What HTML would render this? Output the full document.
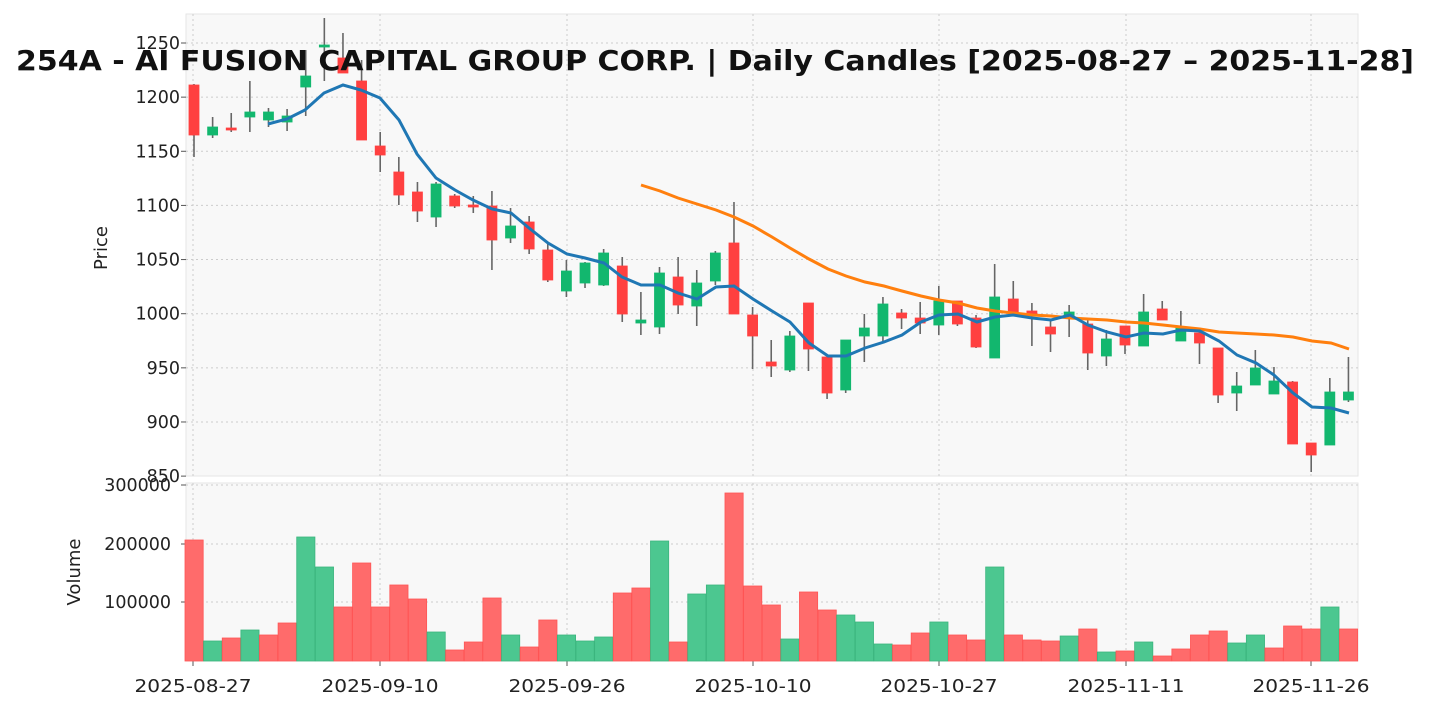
<!DOCTYPE html>
<html><head><meta charset="utf-8"><style>
html,body{margin:0;padding:0;background:#fff;}
svg{display:block;font-family:"DejaVu Sans","Liberation Sans",sans-serif;}
</style></head><body>
<svg id="s" width="1430" height="711" xmlns="http://www.w3.org/2000/svg"></svg>
<script>
const s=document.getElementById('s');let h='';
h+='<rect x="186" y="14" width="1172" height="462" fill="#f8f8f8" stroke="#e6e6e6"/>';
h+='<rect x="186" y="483" width="1172" height="178" fill="#f8f8f8" stroke="#e6e6e6"/>';
const xs=[193,380,567,753,939,1126,1311],xl=['2025-08-27','2025-09-10','2025-09-26','2025-10-10','2025-10-27','2025-11-11','2025-11-26'];
xs.forEach((x,i)=>{h+=`<line x1="${x}" y1="14" x2="${x}" y2="476" stroke="#ccc" stroke-dasharray="2,3"/><line x1="${x}" y1="483" x2="${x}" y2="661" stroke="#ccc" stroke-dasharray="2,3"/><line x1="${x}" y1="661" x2="${x}" y2="666" stroke="#555"/><text x="${x}" y="692" font-size="17.5" text-anchor="middle" fill="#222" textLength="117" lengthAdjust="spacingAndGlyphs">${xl[i]}</text>`;});
for(let k=0;k<9;k++){const v=1250-50*k,y=43+54.14*k;if(k<8)h+=`<line x1="186" y1="${y}" x2="1358" y2="${y}" stroke="#ccc" stroke-dasharray="2,3"/>`;h+=`<line x1="181" y1="${y}" x2="186" y2="${y}" stroke="#555"/><text x="180" y="${y+6}" font-size="17.5" text-anchor="end" fill="#222">${v}</text>`;}
[[300000,485],[200000,544],[100000,602]].forEach(([v,y])=>{h+=`<line x1="186" y1="${y}" x2="1358" y2="${y}" stroke="#ccc" stroke-dasharray="2,3"/><line x1="181" y1="${y}" x2="186" y2="${y}" stroke="#555"/><text x="171" y="${y+6}" font-size="17.5" text-anchor="end" fill="#222">${v}</text>`;});
h+='<text x="107" y="248" font-size="18" fill="#222" text-anchor="middle" transform="rotate(-90 107 248)">Price</text>';
h+='<text x="80" y="572" font-size="18" fill="#222" text-anchor="middle" transform="rotate(-90 80 572)">Volume</text>';
const R='r',G='g';
const c=[[R,85,135,84,157],[G,127,135,117,138],[R,128,130,113,132],[G,112,117,81,132],[G,112,120,108,127],[G,116,122,109,131],[G,76,87,50,116],[G,45,47,18,81],[R,58,73,33,73],[R,81,140,60,140],[R,146,155,132,172],[R,172,195,157,205],[R,192,211,182,222],[G,184,217,182,227],[R,196,206,194,208],[R,205,207,196,213],[R,206,240,191,270],[G,226,238,208,243],[R,222,249,216,254],[R,250,280,244,282],[G,271,291,260,297],[G,263,283,262,288],[G,253,285,249,286],[R,266,314,257,322],[G,320,323,292,335],[G,273,327,267,334],[R,277,305,257,314],[G,283,306,270,326],[G,253,281,251,285],[R,243,314,202,314],[R,315,336,307,369],[R,362,366,340,377],[G,336,370,331,372],[R,303,349,303,371],[R,357,393,357,399],[G,340,390,340,393],[G,328,336,314,362],[G,304,336,297,342],[R,313,318,309,329],[R,318,323,302,334],[G,301,325,286,335],[R,301,324,301,326],[R,318,347,315,348],[G,297,358,264,358],[R,299,312,281,312],[R,311,315,303,346],[R,327,334,320,352],[G,312,317,305,337],[R,324,353,320,370],[G,339,356,330,366],[R,326,345,326,354],[G,312,346,294,346],[R,309,320,301,320],[G,328,341,311,341],[R,333,343,329,364],[R,348,395,348,403],[G,386,393,372,411],[G,368,385,350,385],[G,381,394,367,394],[R,382,444,381,444],[R,443,455,443,472],[G,392,445,378,445],[G,392,400,357,402]];
const v=[540,641,638,630,635,623,537,567,607,563,607,585,599,632,650,642,598,635,647,620,635,641,637,593,588,541,642,594,585,493,586,605,639,592,610,615,622,644,645,633,622,635,640,567,635,640,641,636,629,652,651,642,656,649,635,631,643,635,648,626,629,607,629];
const vcol='rgrgrrggrrrrrgrrrgrrgggrrgrggrrrgrrgggrrgrrgrrrgrgrgrrrrggrrrgr';
c.forEach((d,i)=>{const x=194+18.62*i;const red=vcol[i]=='r';const vc=red?'#ff6b6b':'#4cc790',vs=red?'#f55':'#3bb57e';
h+=`<rect x="${x-9}" y="${v[i]}" width="18.2" height="${661-v[i]}" fill="${vc}" stroke="${vs}" stroke-width="0.8"/>`;});
c.forEach((d,i)=>{const x=194+18.62*i;const col=d[0]==R?'#ff4040':'#12b76e';
h+=`<line x1="${x}" y1="${d[3]}" x2="${x}" y2="${d[4]}" stroke="#666" stroke-width="1.6"/><rect x="${x-5}" y="${d[1]}" width="10" height="${Math.max(2,d[2]-d[1])}" fill="${col}" stroke="${col}" stroke-width="0.8"/>`;});
const b=[[268,124],[287,119],[305,110],[324,93],[343,85],[361,90],[380,98],[399,120],[417,154],[436,178],[455,190],[473,200],[492,209],[511,213],[529,228],[548,243],[567,254],[585,258],[604,263],[622,277],[641,285],[660,285],[678,293],[697,299],[716,287],[734,286],[753,299],[772,311],[790,322],[809,343],[828,356],[846,356],[865,348],[884,342],[902,335],[921,322],[939,315],[958,314],[977,322],[995,317],[1013,315],[1032,318],[1051,320],[1070,315],[1088,325],[1107,332],[1126,337],[1144,333],[1163,334],[1181,330],[1200,331],[1219,341],[1237,355],[1256,363],[1274,375],[1293,393],[1312,407],[1331,408],[1349,413]];
const o=[[641,185],[660,191],[678,198],[697,204],[716,210],[734,217],[753,226],[772,237],[790,248],[809,259],[828,269],[846,276],[865,282],[884,286],[902,291],[921,296],[939,300],[958,303],[977,308],[995,311],[1013,313],[1032,315],[1051,316],[1070,318],[1088,319],[1107,320],[1126,322],[1144,323],[1163,325],[1181,327],[1200,329],[1219,332],[1237,333],[1256,334],[1274,335],[1293,337],[1312,341],[1331,343],[1349,349]];
h+=`<polyline points="${o.join(' ')}" fill="none" stroke="#ff7f0e" stroke-width="3"/>`;
h+=`<polyline points="${b.join(' ')}" fill="none" stroke="#1f77b4" stroke-width="3"/>`;
h+='<text x="715" y="70" font-size="27.5" font-weight="bold" text-anchor="middle" fill="#111" textLength="1398" lengthAdjust="spacingAndGlyphs">254A - AI FUSION CAPITAL GROUP CORP. | Daily Candles [2025-08-27 – 2025-11-28]</text>';
s.innerHTML=h;
</script>
</body></html>
